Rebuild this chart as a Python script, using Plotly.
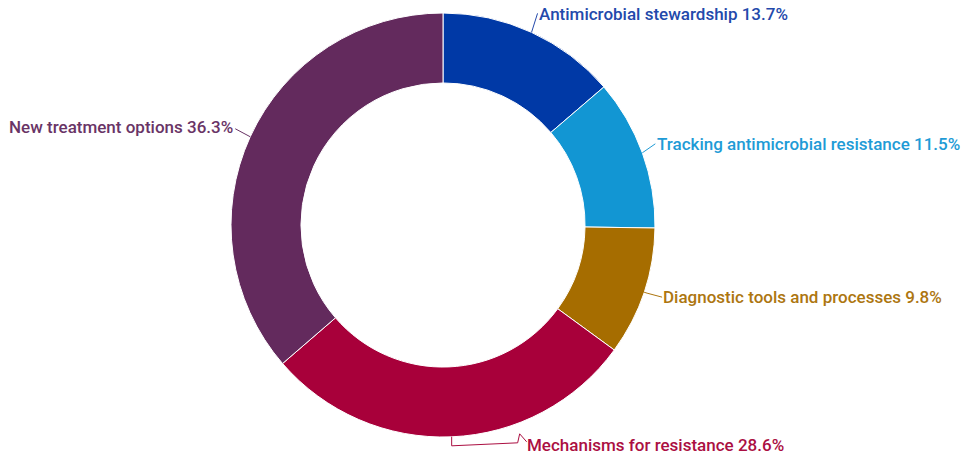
import math
import plotly.graph_objects as go

# Share of research focus areas (percent)
categories = [
    "Antimicrobial stewardship",
    "Tracking antimicrobial resistance",
    "Diagnostic tools and processes",
    "Mechanisms for resistance",
    "New treatment options",
]
shares = [13.7, 11.5, 9.8, 28.6, 36.3]

slice_colors = ["#0039a6", "#1296d3", "#a66d00", "#a8003a", "#632a5d"]
label_colors = ["#2349ab", "#1e9bd6", "#ad7610", "#ab0f42", "#693466"]

W, H = 964, 455
CX, CY, R = 443, 225, 212

# leader-line bends (pixel offsets from the slice's outer mid-point) and label side
leader_paths = [
    [(0, 0), (6, -19)],
    [(0, 0), (13, -9)],
    [(0, 0), (3, 1), (18, 5)],
    [(0, 0), (0, 9), (66, 6), (68, -3), (75, 5)],
    [(0, 0), (-15, -8)],
]
label_nudge = [(-1, 1), (0, 0), (-1, 0), (-2, 3), (0, -2)]
label_side = ["left", "left", "left", "left", "right"]

fig = go.Figure(
    go.Pie(
        labels=categories,
        values=shares,
        hole=0.67,
        sort=False,
        direction="clockwise",
        rotation=0,
        marker=dict(colors=slice_colors, line=dict(color="#ffffff", width=1)),
        textinfo="none",
        hoverinfo="label+percent",
        showlegend=False,
        domain=dict(x=[(CX - R) / W, (CX + R) / W], y=[(H - CY - R) / H, (H - CY + R) / H]),
    )
)


def to_paper(px, py):
    return px / W, 1 - py / H


total = sum(shares)
cum = 0.0
shapes, annotations = [], []
for name, val, col, path, nudge, side in zip(
    categories, shares, label_colors, leader_paths, label_nudge, label_side
):
    mid = (cum + val / 2) / total * 2 * math.pi
    cum += val
    ax = CX + R * math.sin(mid)
    ay = CY - R * math.cos(mid)
    pts = [to_paper(ax + dx, ay + dy) for dx, dy in path]
    d = "M " + " L ".join(f"{x:.5f},{y:.5f}" for x, y in pts)
    shapes.append(dict(type="path", xref="paper", yref="paper", path=d,
                       line=dict(color=col, width=1)))
    ex, ey = path[-1]
    tx, ty = to_paper(ax + ex + nudge[0], ay + ey + nudge[1])
    annotations.append(dict(
        x=tx, y=ty, xref="paper", yref="paper",
        text=f"{name} {val}%", showarrow=False,
        xanchor=side, yanchor="middle",
        font=dict(family="Roboto", size=17, color=col, weight=500),
    ))

fig.update_layout(
    width=W, height=H,
    margin=dict(l=0, r=0, t=0, b=0),
    paper_bgcolor="#ffffff",
    plot_bgcolor="#ffffff",
    shapes=shapes,
    annotations=annotations,
)

fig.write_html("out.html")
